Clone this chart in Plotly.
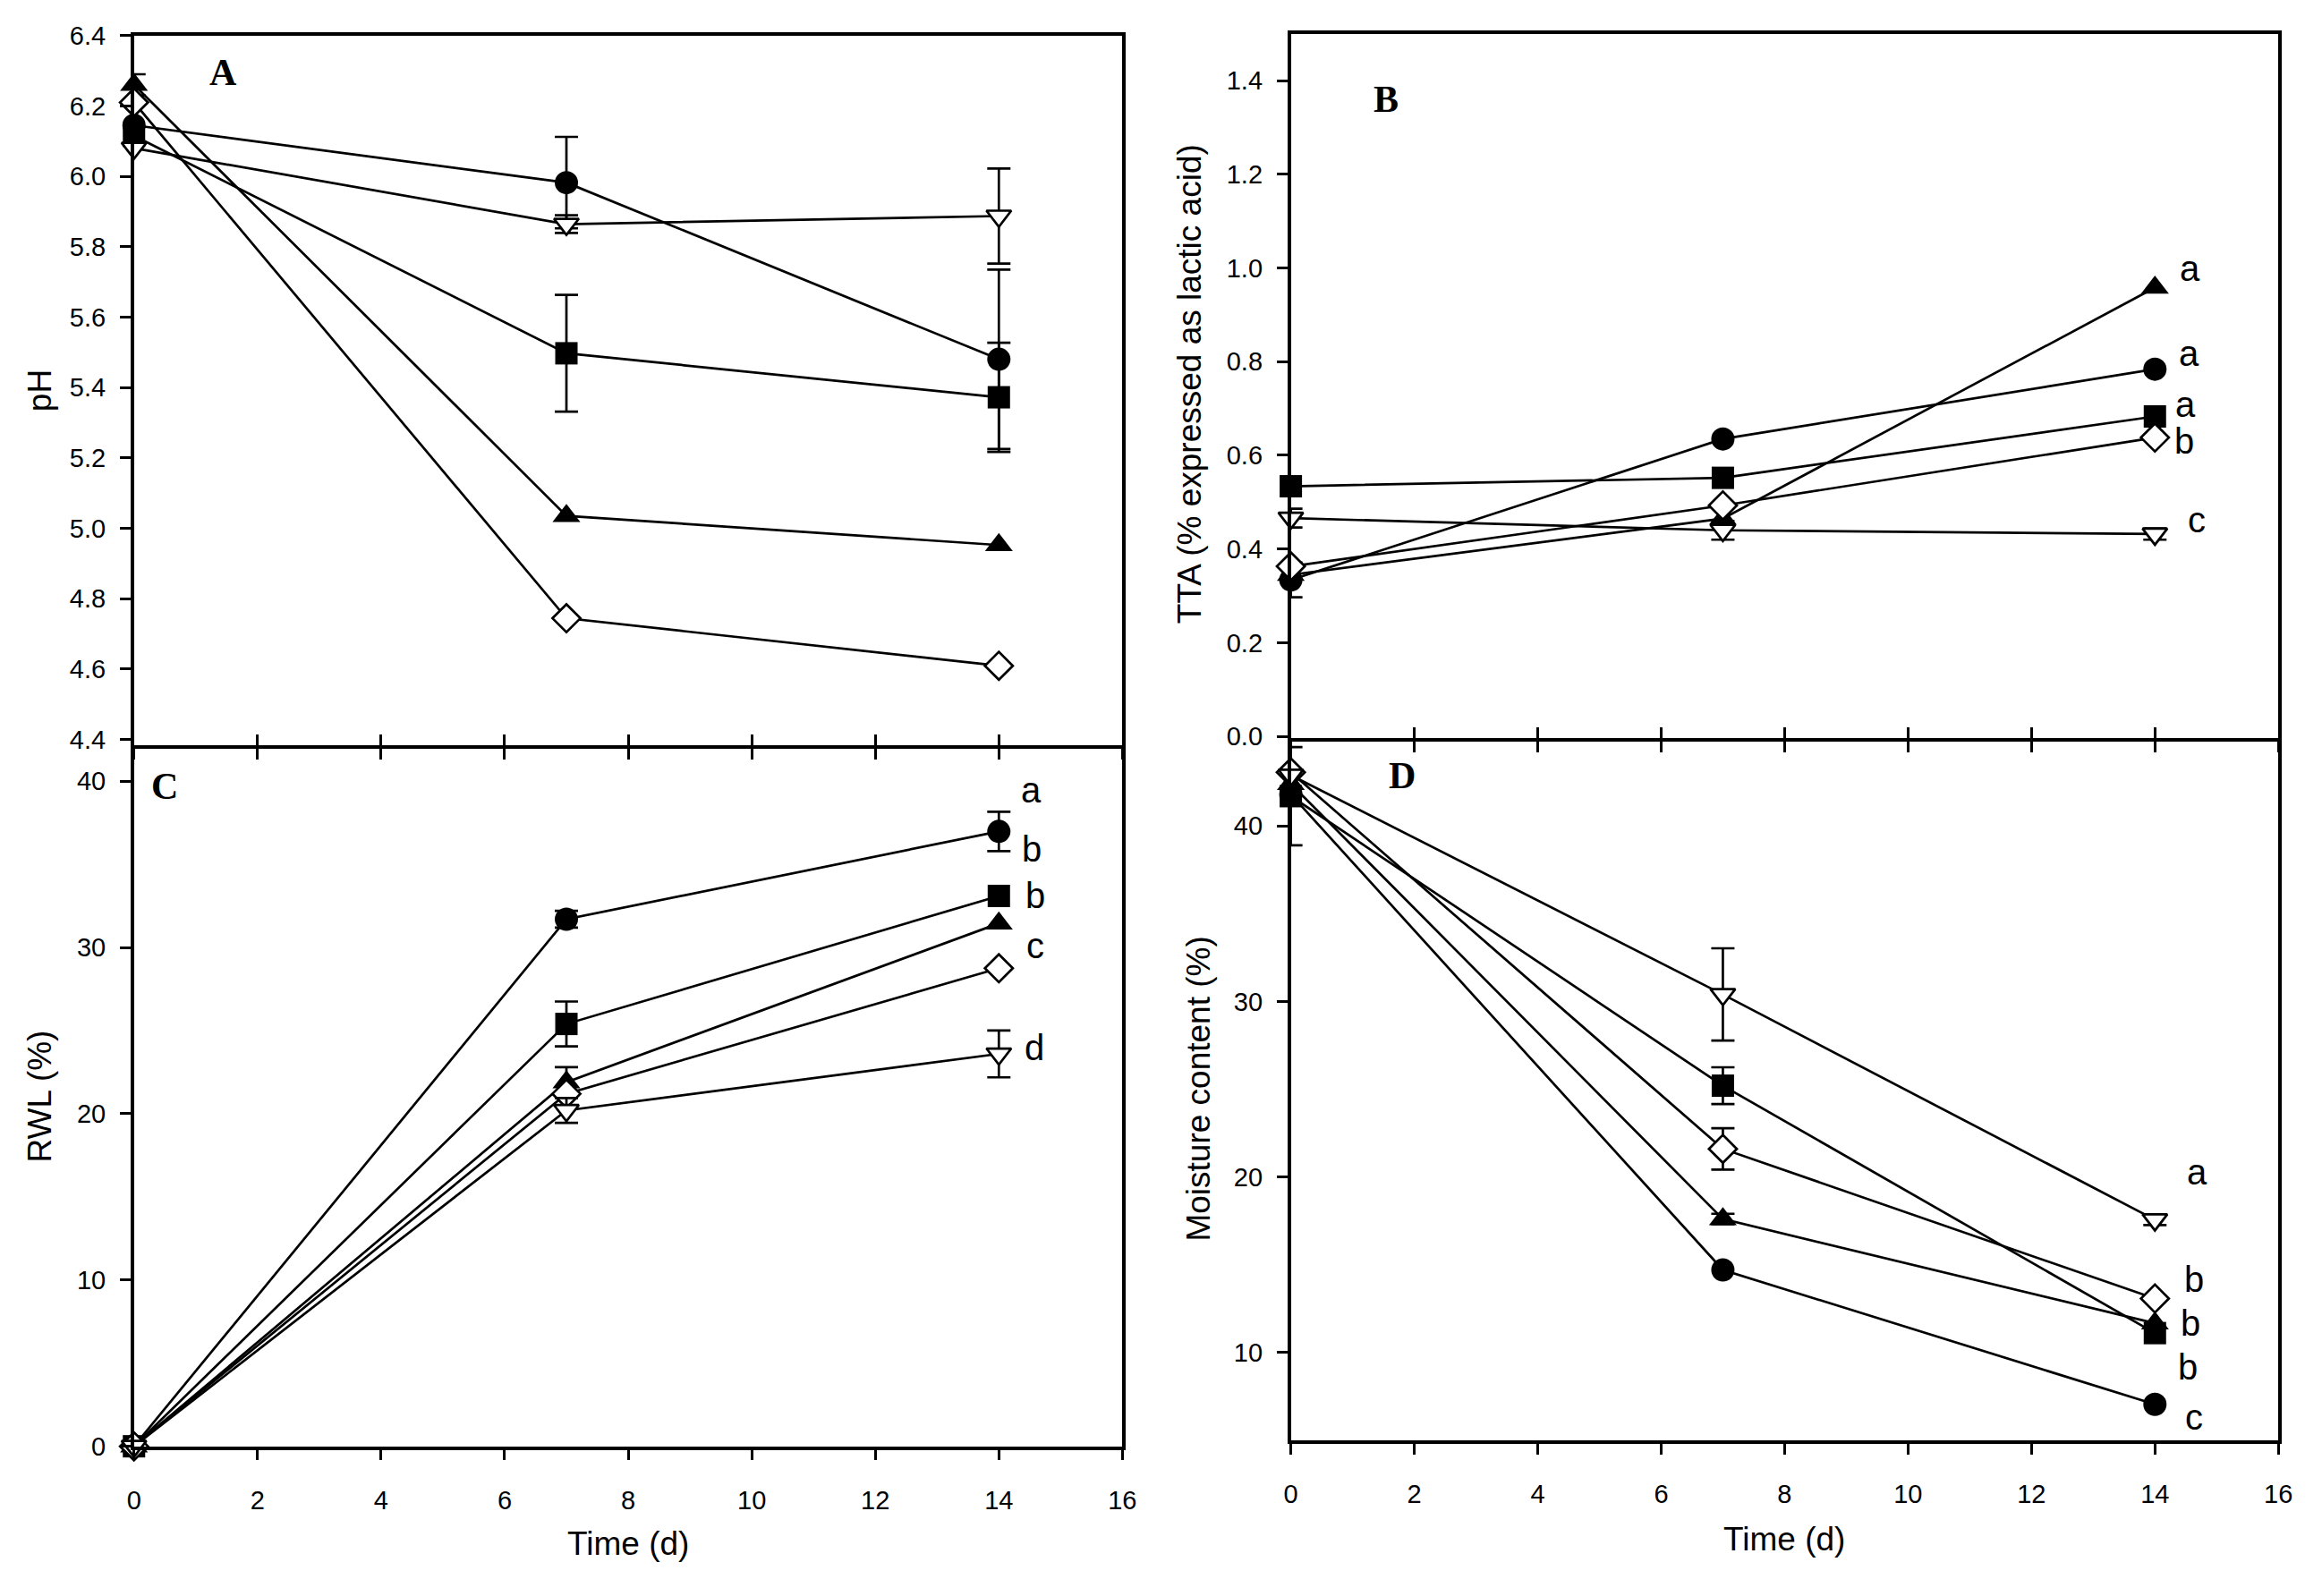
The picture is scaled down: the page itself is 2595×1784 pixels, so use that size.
import plotly.graph_objects as go

days = [0, 7, 14]

# pH (panel A); sd 0 = no visible error bar
ph_circle = [6.145, 5.982, 5.48]
ph_circle_sd = [0, 0.13, 0.255]
ph_square = [6.115, 5.497, 5.372]
ph_square_sd = [0, 0.166, 0.155]
ph_tri_up = [6.26, 5.035, 4.952]
ph_tri_up_sd = [0.03, 0, 0]
ph_diamond = [6.21, 4.744, 4.609]
ph_diamond_sd = [0, 0, 0]
ph_tri_down = [6.08, 5.864, 5.887]
ph_tri_down_sd = [0, 0.025, 0.135]

# TTA (panel B)
tta_circle = [0.334, 0.635, 0.784]
tta_circle_sd = [0.037, 0, 0]
tta_square = [0.534, 0.552, 0.683]
tta_square_sd = [0, 0, 0]
tta_tri_up = [0.345, 0.465, 0.958]
tta_tri_up_sd = [0, 0, 0]
tta_diamond = [0.363, 0.493, 0.638]
tta_diamond_sd = [0, 0, 0]
tta_tri_down = [0.466, 0.44, 0.432]
tta_tri_down_sd = [0.02, 0.02, 0.012]

# RWL (panel C)
rwl_circle = [0, 31.7, 36.98]
rwl_circle_sd = [0, 0.5, 1.18]
rwl_square = [0, 25.4, 33.1]
rwl_square_sd = [0, 1.35, 0]
rwl_tri_up = [0, 21.9, 31.45]
rwl_tri_up_sd = [0, 0.9, 0]
rwl_diamond = [0, 21.2, 28.75]
rwl_diamond_sd = [0, 0, 0]
rwl_tri_down = [0, 20.2, 23.6]
rwl_tri_down_sd = [0, 0.75, 1.41]

# Moisture content (panel D)
mc_circle = [41.8, 14.7, 7.04]
mc_circle_sd = [0, 0, 0]
mc_square = [41.7, 25.2, 11.1]
mc_square_sd = [2.8, 1.05, 0]
mc_tri_up = [42.4, 17.6, 11.66]
mc_tri_up_sd = [0, 0.3, 0]
mc_diamond = [43.06, 21.6, 13.07]
mc_diamond_sd = [0, 1.18, 0]
mc_tri_down = [42.9, 30.4, 17.56]
mc_tri_down_sd = [0, 2.63, 0.3]

tta_letters = ["a", "a", "a", "b", "c"]
tta_letter_y = [1.0, 0.817, 0.708, 0.631, 0.463]
rwl_letters = ["a", "b", "b", "c", "d"]
rwl_letter_y = [39.5, 35.9, 33.1, 30.1, 24.0]
mc_letters = ["a", "b", "b", "b", "c"]
mc_letter_y = [20.3, 14.16, 11.66, 9.15, 6.32]

W, H = 2595, 1784
OFF = 8  # default body margin of the page
FW, FH = W - 2 * OFF, H - 2 * OFF  # so the page fits the window exactly
FONT = "Liberation Sans, Arial, sans-serif"


def px_x(p):
    return (p - OFF) / FW


def px_y(p):
    return 1 - (p - OFF) / FH


symbols = [
    ("circle", "black", 26),
    ("square", "black", 25),
    ("triangle-up", "black", 27),
    ("diamond", "white", 24),
    ("triangle-down", "white", 24),
]

panels = [
    ("x", "y", [ph_circle, ph_square, ph_tri_up, ph_diamond, ph_tri_down],
     [ph_circle_sd, ph_square_sd, ph_tri_up_sd, ph_diamond_sd, ph_tri_down_sd]),
    ("x2", "y2", [tta_circle, tta_square, tta_tri_up, tta_diamond, tta_tri_down],
     [tta_circle_sd, tta_square_sd, tta_tri_up_sd, tta_diamond_sd, tta_tri_down_sd]),
    ("x3", "y3", [rwl_circle, rwl_square, rwl_tri_up, rwl_diamond, rwl_tri_down],
     [rwl_circle_sd, rwl_square_sd, rwl_tri_up_sd, rwl_diamond_sd, rwl_tri_down_sd]),
    ("x4", "y4", [mc_circle, mc_square, mc_tri_up, mc_diamond, mc_tri_down],
     [mc_circle_sd, mc_square_sd, mc_tri_up_sd, mc_diamond_sd, mc_tri_down_sd]),
]

fig = go.Figure()
for xa, ya, series, sds in panels:
    for (sym, fill, size), vals, sd in zip(symbols, series, sds):
        # error bars only where they are visible, drawn under the markers
        keep = [i for i, s in enumerate(sd) if s > 0]
        if keep:
            fig.add_trace(go.Scatter(
                x=[days[i] for i in keep], y=[vals[i] for i in keep],
                xaxis=xa, yaxis=ya, mode="markers", showlegend=False,
                cliponaxis=False, marker=dict(size=1, opacity=0),
                error_y=dict(type="data", array=[sd[i] for i in keep], visible=True,
                             color="black", thickness=2.7, width=13),
            ))
        fig.add_trace(go.Scatter(
            x=days, y=vals, xaxis=xa, yaxis=ya,
            mode="lines+markers", cliponaxis=False, showlegend=False,
            line=dict(color="black", width=2.7),
            marker=dict(symbol=sym, size=size, color=fill,
                        line=dict(color="black", width=2.7 if fill == "white" else 0)),
        ))

left = [px_x(143), px_x(1258)]
right = [px_x(1448), px_x(2562)]
dom_a = [px_y(832), px_y(24)]
dom_b = [px_y(824), px_y(22)]
dom_c = [px_y(1630), px_y(832)]
dom_d = [px_y(1623), px_y(824)]


def ax(**kw):
    base = dict(showline=True, linecolor="black", linewidth=3.5, ticks="outside",
                ticklen=12, tickwidth=3, tickcolor="black", showgrid=False,
                zeroline=False, tickfont=dict(family=FONT, size=29, color="black"))
    base.update(kw)
    return base


fig.update_layout(
    width=FW, height=FH,
    margin=dict(l=0, r=0, t=0, b=0),
    paper_bgcolor="white", plot_bgcolor="white",
    xaxis=ax(domain=left, anchor="y", range=[0, 16], dtick=2, showticklabels=False, mirror=True),
    yaxis=ax(domain=dom_a, anchor="x", range=[4.383, 6.4], dtick=0.2,
             tickformat=".1f", mirror=True, ticklabelstandoff=10),
    xaxis2=ax(domain=right, anchor="y2", range=[0, 16], dtick=2, showticklabels=False, mirror=True),
    yaxis2=ax(domain=dom_b, anchor="x2", range=[-0.004, 1.5], tick0=0,
              dtick=0.2, tickformat=".1f", mirror=True, ticklabelstandoff=10),
    xaxis3=ax(domain=left, anchor="y3", range=[0, 16], dtick=2, ticklabelstandoff=20),
    yaxis3=ax(domain=dom_c, anchor="x3", range=[0, 42.16], dtick=10,
              mirror=True, ticklabelstandoff=10),
    xaxis4=ax(domain=right, anchor="y4", range=[0, 16], dtick=2, ticklabelstandoff=20),
    yaxis4=ax(domain=dom_d, anchor="x4", range=[5, 45],
              tickvals=[10, 20, 30, 40], mirror=True, ticklabelstandoff=10),
    # upward half of the crossing ticks on the shared A/C and B/D borders
    xaxis5=ax(domain=left, anchor="y", overlaying="x", range=[0, 16], dtick=2,
              showline=False, ticks="inside", showticklabels=False),
    xaxis6=ax(domain=right, anchor="y2", overlaying="x2", range=[0, 16], dtick=2,
              showline=False, ticks="inside", showticklabels=False),
)
# dummy traces so the overlay axes are drawn
fig.add_trace(go.Scatter(x=[None], y=[None], xaxis="x5", yaxis="y", showlegend=False))
fig.add_trace(go.Scatter(x=[None], y=[None], xaxis="x6", yaxis="y2", showlegend=False))

# axis titles
titles = [
    ("pH", 37, 428, -90),
    ("TTA (% expressed as lactic acid)", 1334, 421, -90),
    ("RWL (%)", 37, 1232, -90),
    ("Moisture content (%)", 1343, 1223, -90),
    ("Time (d)", 700, 1741, 0),
    ("Time (d)", 2005, 1736, 0),
]
for text, tx, ty, ang in titles:
    fig.add_annotation(text=text, xref="paper", yref="paper", x=px_x(tx), y=px_y(ty),
                       xanchor="center", yanchor="middle", textangle=ang, showarrow=False,
                       font=dict(family=FONT, size=37, color="black"))

# panel letters
for text, xa, ya, lx, ly in [("A", "x", "y", 1.45, 6.295), ("B", "x2", "y2", 1.54, 1.36),
                             ("C", "x3", "y3", 0.49, 39.7), ("D", "x4", "y4", 1.8, 42.85)]:
    fig.add_annotation(text="<b>%s</b>" % text, xref=xa, yref=ya, x=lx, y=ly,
                       showarrow=False, xanchor="center", yanchor="middle",
                       font=dict(family="Liberation Serif, Times New Roman, serif",
                                 size=42, color="black"))

# significance letters
for xa, ya, letters, ys, xs in [
    ("x2", "y2", tta_letters, tta_letter_y, [14.57, 14.55, 14.5, 14.47, 14.68]),
    ("x3", "y3", rwl_letters, rwl_letter_y, [14.53, 14.53, 14.59, 14.59, 14.57]),
    ("x4", "y4", mc_letters, mc_letter_y, [14.68, 14.63, 14.57, 14.53, 14.63]),
]:
    for t, yv, xv in zip(letters, ys, xs):
        fig.add_annotation(text=t, xref=xa, yref=ya, x=xv, y=yv, showarrow=False,
                           xanchor="center", yanchor="middle",
                           font=dict(family=FONT, size=40, color="black"))

fig.write_html("out.html")
